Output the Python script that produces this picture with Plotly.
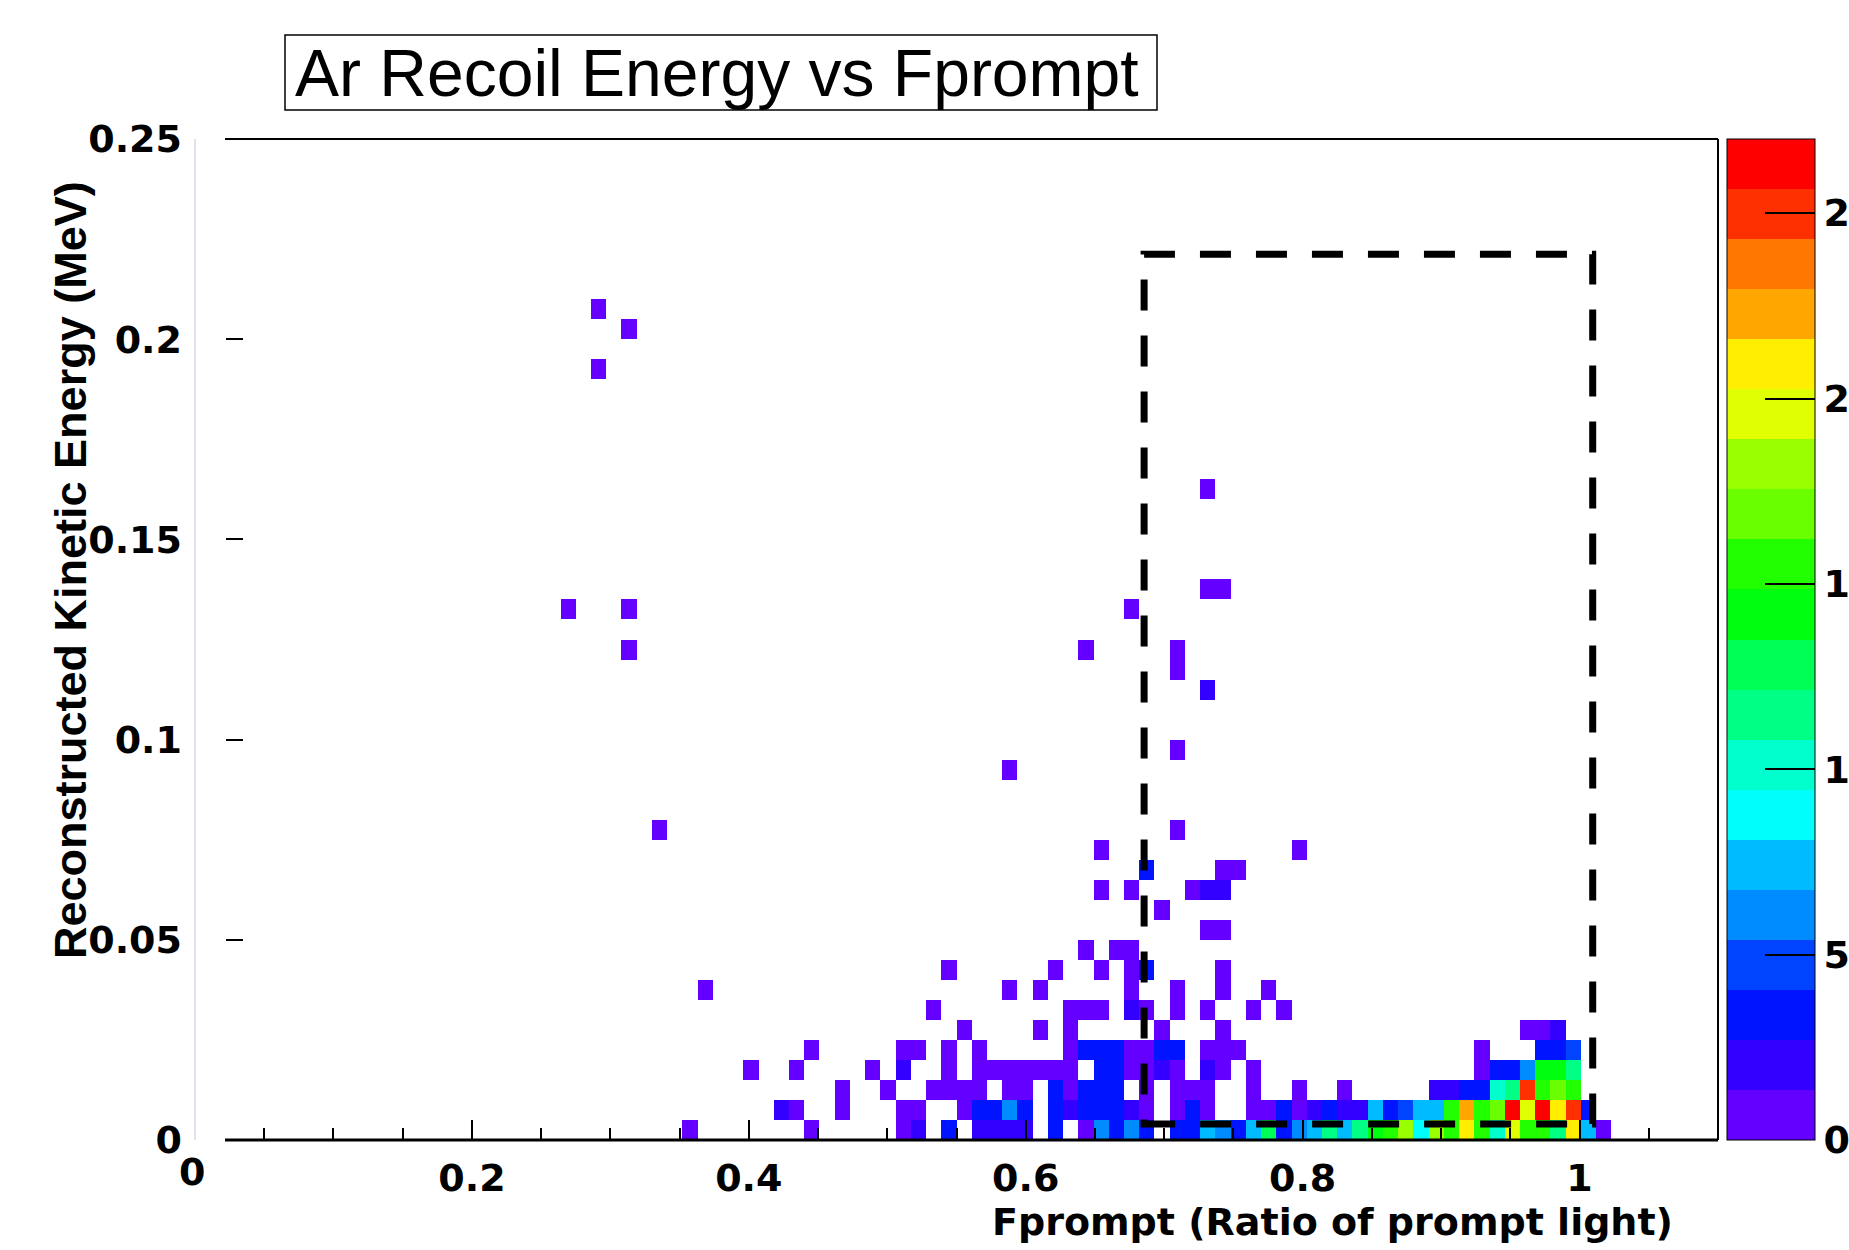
import colorsys
import numpy as np
import plotly.graph_objects as go

# ---------------- histogram definition (ROOT TH2, 100 x 50 bins) ----------------
FPROMPT_NBINS, FPROMPT_MIN, FPROMPT_MAX = 100, 0.0, 1.1
ENERGY_NBINS, ENERGY_MIN, ENERGY_MAX = 50, 0.0, 0.25
Z_MAX = 27

# ---------------- filled cells, one entry per energy-bin row ----------------
row_energy_bin = [0, 1, 2, 3, 4, 5, 6, 7, 8, 9, 10, 11, 12, 13, 14, 15,
                  18, 19, 22, 23, 24, 26, 27, 32, 38, 40, 41]

row_fprompt_bins = [
    [32, 40, 46, 47, 49, 51, 52, 53, 54, 56, 58, 59, 60, 61, 62, 64, 65, 66, 67, 68, 69, 70,
     71, 72, 73, 74, 75, 76, 77, 78, 79, 80, 81, 82, 83, 84, 85, 86, 87, 88, 89, 90, 91, 92],
    [38, 39, 42, 46, 47, 50, 51, 52, 53, 54, 56, 57, 58, 59, 60, 61, 62, 64, 65, 66, 69, 70,
     71, 72, 73, 74, 75, 76, 77, 78, 79, 80, 81, 82, 83, 84, 85, 86, 87, 88, 89, 90, 91],
    [42, 45, 48, 49, 50, 51, 53, 54, 56, 57, 58, 59, 60, 62, 64, 65, 66, 69, 72, 75,
     81, 82, 83, 84, 85, 86, 87, 88, 89, 90],
    [36, 39, 44, 46, 49, 51, 52, 53, 54, 55, 56, 57, 59, 60, 61, 62, 63, 64, 66, 67, 69,
     84, 85, 86, 87, 88, 89, 90],
    [40, 46, 47, 49, 51, 57, 58, 59, 60, 61, 62, 63, 64, 66, 67, 68, 84, 88, 89, 90],
    [50, 55, 57, 63, 67, 87, 88, 89],
    [48, 57, 58, 59, 61, 62, 64, 66, 69, 71],
    [33, 53, 55, 61, 64, 67, 70],
    [49, 56, 59, 61, 62, 67],
    [58, 60, 61],
    [66, 67],
    [63],
    [59, 61, 65, 66, 67],
    [62, 67, 68],
    [59, 72],
    [30, 64],
    [53],
    [64],
    [66],
    [64],
    [28, 58, 64],
    [24, 28, 61],
    [66, 67],
    [66],
    [26],
    [28],
    [26],
]

row_counts = [
    [1, 1, 1, 2, 4, 2, 2, 2, 2, 4, 1, 6, 4, 6, 4, 4, 4, 7, 6, 4, 8, 13,
     4, 6, 7, 12, 8, 12, 14, 15, 18, 9, 18, 15, 21, 15, 10, 20, 16, 15, 11, 21, 7, 1],
    [2, 1, 1, 1, 1, 1, 4, 4, 6, 4, 3, 2, 3, 4, 4, 2, 1, 1, 4, 1, 1, 1,
     4, 1, 2, 4, 2, 2, 7, 4, 5, 8, 7, 15, 22, 16, 17, 27, 19, 26, 21, 25, 4],
    [1, 1, 1, 1, 1, 1, 1, 1, 4, 1, 4, 4, 4, 1, 1, 1, 1, 1, 1, 1,
     2, 2, 3, 4, 10, 12, 25, 15, 17, 15],
    [1, 1, 1, 2, 1, 1, 1, 1, 1, 1, 1, 1, 4, 3, 1, 1, 2, 1, 2, 1, 1,
     1, 4, 4, 6, 14, 14, 12],
    [1, 1, 1, 1, 1, 1, 4, 4, 4, 1, 1, 4, 4, 1, 1, 1, 1, 4, 4, 5],
    [1, 1, 1, 1, 1, 1, 1, 2],
    [1, 1, 1, 1, 2, 1, 1, 1, 1, 1],
    [1, 1, 1, 1, 1, 1, 1],
    [1, 1, 1, 1, 3, 1],
    [1, 1, 1],
    [1, 1],
    [1],
    [1, 1, 1, 2, 2],
    [3, 1, 1],
    [1, 1],
    [1, 1],
    [1],
    [1],
    [2],
    [1],
    [1, 1, 1],
    [1, 1, 1],
    [1, 1],
    [1],
    [1],
    [1],
    [1],
]

# axis ticks / labels
x_major_ticks = [0.2, 0.4, 0.6, 0.8, 1.0]
x_major_text = ["0.2", "0.4", "0.6", "0.8", "1"]
x_minor_ticks = [0.05, 0.1, 0.15, 0.25, 0.3, 0.35, 0.45, 0.5, 0.55, 0.65, 0.7, 0.75,
                 0.85, 0.9, 0.95, 1.05]
y_ticks = [0, 0.05, 0.1, 0.15, 0.2, 0.25]
y_tick_text = ["0", "0.05", "0.1", "0.15", "0.2", "0.25"]
z_ticks = [0, 5, 10, 15, 20, 25]

# signal region box (Fprompt, energy)
box_fprompt = (0.6855, 1.0095)
box_energy = (0.004, 0.2212)

TITLE = "Ar Recoil Energy vs Fprompt"
X_TITLE = "Fprompt (Ratio of prompt light)"
Y_TITLE = "Reconstructed Kinetic Energy (MeV)"

# ---------------- build the histogram matrix ----------------
xw = (FPROMPT_MAX - FPROMPT_MIN) / FPROMPT_NBINS
yw = (ENERGY_MAX - ENERGY_MIN) / ENERGY_NBINS
x_centers = FPROMPT_MIN + xw * (np.arange(FPROMPT_NBINS) + 0.5)
y_centers = ENERGY_MIN + yw * (np.arange(ENERGY_NBINS) + 0.5)
z = np.full((ENERGY_NBINS, FPROMPT_NBINS), np.nan)
for j, bins, cnts in zip(row_energy_bin, row_fprompt_bins, row_counts):
    for i, c in zip(bins, cnts):
        z[j, i] = c
z_list = [[None if np.isnan(v) else float(v) for v in row] for row in z]

# ---------------- ROOT "pretty palette" with 20 contour levels ----------------
def root_pretty(ncont=20, ncol=50):
    out = []
    for k in range(ncont):
        idx = int((k + 0.99) * ncol / ncont)
        hue = 280.0 - (idx + 1) * (280.0 / ncol)
        r, g, b = colorsys.hls_to_rgb(hue / 360.0, 0.5, 1.0)
        out.append(f"rgb({round(r*255)},{round(g*255)},{round(b*255)})")
    return out

pal = root_pretty()
colorscale = []
for k, c in enumerate(pal):
    colorscale.append([k / len(pal), c])
    colorscale.append([(k + 1) / len(pal), c])

# ---------------- page geometry (pixels) ----------------
FIG_W, FIG_H = 1849, 1250
PL, PR, PT, PB = 195, 1718, 139, 1140
PW, PH = PR - PL, PB - PT

def px_x(p):
    return (p - PL) / PW

def px_y(p):
    return (PB - p) / PH

BOLD = dict(family="DejaVu Sans", size=38, color="black", weight="bold")

fig = go.Figure()
fig.add_trace(go.Heatmap(
    z=z_list, x=x_centers, y=y_centers,
    zmin=0, zmax=Z_MAX, colorscale=colorscale, hoverongaps=False,
    colorbar=dict(
        x=px_x(1727), xanchor="left", xpad=0, ypad=0,
        y=0.5, yanchor="middle", len=1, lenmode="fraction",
        thickness=88, thicknessmode="pixels",
        outlinewidth=1, outlinecolor="black",
        tickmode="array", tickvals=z_ticks, ticktext=[str(t) for t in z_ticks],
        ticks="inside", ticklen=50, tickwidth=2, tickcolor="black",
        tickfont=BOLD,
    ),
))

fig.update_xaxes(
    range=[FPROMPT_MIN, FPROMPT_MAX], showgrid=False, zeroline=False, showline=False,
    tickmode="array", tickvals=x_major_ticks, ticktext=x_major_text,
    ticks="inside", ticklen=20, tickwidth=2, tickcolor="black",
    minor=dict(tickmode="array", tickvals=x_minor_ticks, ticks="inside",
               ticklen=12, tickwidth=2, tickcolor="black", showgrid=False),
    tickfont=BOLD, ticklabelstandoff=12,
)
fig.update_yaxes(
    range=[ENERGY_MIN, ENERGY_MAX], showgrid=False, zeroline=False, showline=False,
    anchor="free", position=px_x(225),
    tickmode="array", tickvals=y_ticks, ticktext=y_tick_text,
    ticks="inside", ticklen=17, tickwidth=2, tickcolor="black",
    tickfont=BOLD, ticklabelstandoff=43,
)

shapes = [
    # thin left guide at Fprompt = 0
    dict(type="line", xref="paper", yref="paper", x0=0, x1=0, y0=0, y1=1,
         line=dict(color="#c4c4de", width=1)),
    # frame
    dict(type="line", xref="paper", yref="paper", x0=px_x(225), x1=1, y0=1, y1=1,
         line=dict(color="black", width=2)),
    dict(type="line", xref="paper", yref="paper", x0=1, x1=1, y0=0, y1=1,
         line=dict(color="black", width=2)),
    dict(type="line", xref="paper", yref="paper", x0=px_x(225), x1=1, y0=0, y1=0,
         line=dict(color="black", width=3)),
    # dashed signal box
    dict(type="rect", xref="x", yref="y",
         x0=box_fprompt[0], x1=box_fprompt[1], y0=box_energy[0], y1=box_energy[1],
         line=dict(color="black", width=7, dash="31px,25px")),
    # title box
    dict(type="rect", xref="paper", yref="paper",
         x0=px_x(285), x1=px_x(1157), y0=px_y(110), y1=px_y(35),
         line=dict(color="black", width=1.5), fillcolor="white"),
]

annotations = [
    dict(text=TITLE, xref="paper", yref="paper", x=px_x(717), y=px_y(73),
         xanchor="center", yanchor="middle", showarrow=False,
         font=dict(family="Liberation Sans", size=66, color="black")),
    dict(text=X_TITLE, xref="paper", yref="paper", x=px_x(1675), y=px_y(1222),
         xanchor="right", yanchor="middle", showarrow=False, font=BOLD),
    dict(text=Y_TITLE, xref="paper", yref="paper", x=px_x(70), y=px_y(570),
         xanchor="center", yanchor="middle", showarrow=False, textangle=-90,
         font=dict(family="Liberation Sans", size=45, color="black", weight="bold")),
    dict(text="0", xref="paper", yref="paper", x=px_x(192), y=px_y(1172),
         xanchor="center", yanchor="middle", showarrow=False, font=BOLD),
]

fig.update_layout(
    width=FIG_W, height=FIG_H,
    margin=dict(l=PL, r=FIG_W - PR, t=PT, b=FIG_H - PB, autoexpand=False),
    paper_bgcolor="white", plot_bgcolor="white",
    shapes=shapes, annotations=annotations, showlegend=False,
)

fig.write_html("out.html")
